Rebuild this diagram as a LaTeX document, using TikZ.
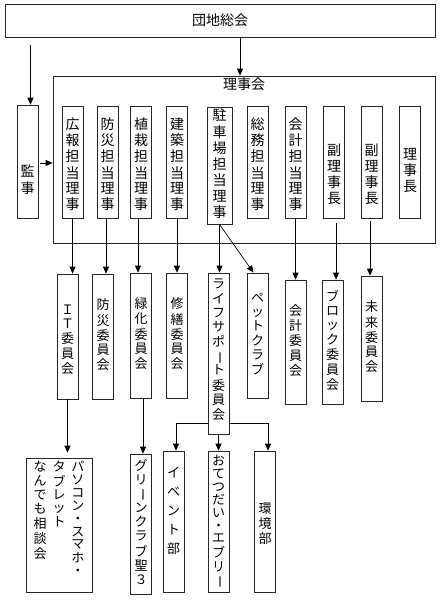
\documentclass[tikz,border=0pt]{standalone}
\usepackage{fontspec}
\setmainfont{Noto Sans CJK JP}
\usepackage{graphicx}
\usetikzlibrary{arrows.meta,calc,positioning}
% one character per line
\newcommand{\tate}[1]{\begin{tabular}[t]{@{}c@{}}#1\end{tabular}}
% move the text down without moving the box
\newcommand{\nudge}[2]{\raisebox{-#1}[\height][\depth]{#2}}
% long vowel mark, turned upright
\newcommand{\bou}{\rotatebox[origin=c]{-90}{ー}}

\begin{document}
\begin{tikzpicture}[x=1pt,y=-1pt]
        \tikzstyle{box}=[draw=black!85, line width=0.7pt, inner sep=0pt, minimum width=21pt]
        \tikzstyle{riji}=[box, minimum height=112pt, font=\fontsize{14}{15}\selectfont]
        \tikzstyle{iin}=[box, minimum height=125pt, font=\fontsize{13}{14}\selectfont]
        \tikzstyle{arr}=[line width=0.7pt, -{Triangle[length=7pt,width=6pt]}]
        \useasboundingbox (0,0) rectangle (443,600);
        % general meeting
        \node[box, minimum width=430pt, minimum height=33pt, font=\fontsize{14}{16}\selectfont] (soukai) at (220,20.5) {団地総会};
        % board of directors
        \node[box, minimum width=382pt, minimum height=167pt] (rijikai) at (244,159.5) {};
        \node[below=2pt of rijikai.north, inner sep=0pt, font=\fontsize{14}{16}\selectfont] (rijikaititle) {理事会};
        % auditor
        \node[riji, minimum height=113pt] (kanji) at (27.5,161.5) {\nudge{20pt}{\tate{監\\事}}};
        % directors
        \node[riji] (kouhou) at (72.5,162) {\nudge{4pt}{\tate{広\\報\\担\\当\\理\\事}}};
        \node[riji] (bousai) at (107.5,162) {\nudge{4pt}{\tate{防\\災\\担\\当\\理\\事}}};
        \node[riji] (shokusai) at (141,162) {\nudge{4pt}{\tate{植\\栽\\担\\当\\理\\事}}};
        \node[riji] (kenchiku) at (177,162) {\nudge{4pt}{\tate{建\\築\\担\\当\\理\\事}}};
        \node[riji, minimum width=25pt, minimum height=117pt] (chusha) at (219.5,165.5) {\tate{駐\\車\\場\\担\\当\\理\\事}};
        \node[riji] (soumu) at (257.5,162) {\nudge{4pt}{\tate{総\\務\\担\\当\\理\\事}}};
        \node[riji] (kaikei) at (295.5,162) {\nudge{4pt}{\tate{会\\計\\担\\当\\理\\事}}};
        \node[riji] (fuku1) at (334,162) {\nudge{14pt}{\tate{副\\理\\事\\長}}};
        \node[riji] (fuku2) at (371.5,162) {\nudge{14pt}{\tate{副\\理\\事\\長}}};
        \node[riji] (richo) at (410,162) {\nudge{10pt}{\tate{理\\事\\長}}};
        % committees
        \node[iin] (it) at (67.5,336.5) {\nudge{5pt}{\tate{Ｉ\\Ｔ\\委\\員\\会}}};
        \node[iin] (bousaiiin) at (103,336.5) {\tate{防\\災\\委\\員\\会}};
        \node[iin] (ryokka) at (141,335.5) {\tate{緑\\化\\委\\員\\会}};
        \node[iin] (shuzen) at (177,335.5) {\tate{修\\繕\\委\\員\\会}};
        \node[iin, minimum height=161pt] (life) at (218.5,353.5) {\nudge{-2pt}{\tate{ラ\\イ\\フ\\サ\\ポ\\\bou\\ト\\委\\員\\会}}};
        \node[iin] (pet) at (257.5,335.5) {\tate{ペ\\ッ\\ト\\ク\\ラ\\ブ}};
        \node[iin, minimum height=124pt] (kaikeiiin) at (295.5,342) {\tate{会\\計\\委\\員\\会}};
        \node[iin, minimum height=124pt] (block) at (332.5,342) {\tate{ブ\\ロ\\ッ\\ク\\委\\員\\会}};
        \node[iin] (mirai) at (371.5,338.5) {\tate{未\\来\\委\\員\\会}};
        % groups
        \node[box, minimum width=66pt, minimum height=134pt] (pasokon) at (59,525) {};
        \node[anchor=north, inner sep=0pt, font=\fontsize{13}{12.5}\selectfont] (pasokontext) at ([yshift=-3pt]pasokon.north)
            {\begin{tabular}{@{}c@{\hspace{6pt}}c@{\hspace{6pt}}c@{}}
             {\fontsize{13}{13.5}\selectfont\tate{な\\ん\\で\\も\\相\\談\\会}} & \tate{タ\\ブ\\レ\\ッ\\ト} &
             \tate{パ\\ソ\\コ\\ン\\・\\ス\\マ\\ホ\\・}
             \end{tabular}};
        \node[iin, minimum height=140pt] (green) at (141,524) {\tate{グ\\リ\\\bou\\ン\\ク\\ラ\\ブ\\聖\\３}};
        \node[iin, minimum height=141pt, font=\fontsize{13}{19}\selectfont] (event) at (173.5,521.5) {\nudge{-10pt}{\tate{イ\\ベ\\ン\\ト\\部}}};
        \node[iin, minimum height=141pt, font=\fontsize{13}{12.5}\selectfont] (otetsudai) at (218.5,521.5) {\tate{お\\て\\つ\\だ\\い\\・\\エ\\ブ\\リ\\\bou}};
        \node[iin, minimum height=141pt] (kankyo) at (265,521.5) {\nudge{4pt}{\tate{環\\境\\部}}};
        % arrows from the top
        \draw[arr] ([xshift=-4pt]rijikai.north |- soukai.south) -- ([xshift=-4pt]rijikai.north);
        \draw[arr, shorten <=8pt] ([xshift=3pt]kanji.north |- soukai.south) -- ([xshift=3pt]kanji.north);
        \draw[arr, shorten <=2pt] ([yshift=-1.5pt]kanji.east) -- ([yshift=-1.5pt]kanji.east -| rijikai.west);
        % directors to committees
        \draw[arr] (kouhou.south) -- (kouhou.south |- it.north);
        \draw[arr] ([xshift=-1.5pt]bousai.south) -- ([xshift=-1.5pt]bousai.south |- bousaiiin.north);
        \draw[arr] ([xshift=-3pt]shokusai.south) -- ([xshift=-3pt]shokusai.south |- ryokka.north);
        \draw[arr] (kenchiku.south) -- (kenchiku.south |- shuzen.north);
        \draw[arr] (chusha.south) -- (chusha.south |- life.north);
        \draw[arr] (chusha.south) -- ([xshift=-4pt]pet.north);
        \draw[arr] (kaikei.south) -- (kaikei.south |- kaikeiiin.north);
        \draw[arr, shorten <=5pt] ([xshift=2pt]fuku1.south) -- ([xshift=2pt]fuku1.south |- block.north);
        \draw[arr, shorten <=3pt] ([xshift=-1.5pt]fuku2.south) -- ([xshift=-1.5pt]fuku2.south |- mirai.north);
        % committees to groups
        \draw[arr, shorten >=5pt] (it.south) -- (it.south |- pasokon.north);
        \draw[arr] ([xshift=2pt]ryokka.south) -- ([xshift=2pt]ryokka.south |- green.north);
        \coordinate (fork) at ($(life.south)+(0,-11)$);
        \draw[arr] (fork -| life.west) -| ([xshift=2.5pt]event.north);
        \draw[arr] (fork -| life.east) -| ([xshift=3pt]kankyo.north);
        \draw[arr] (life.south) -- (life.south |- otetsudai.north);
\end{tikzpicture}
\end{document}
